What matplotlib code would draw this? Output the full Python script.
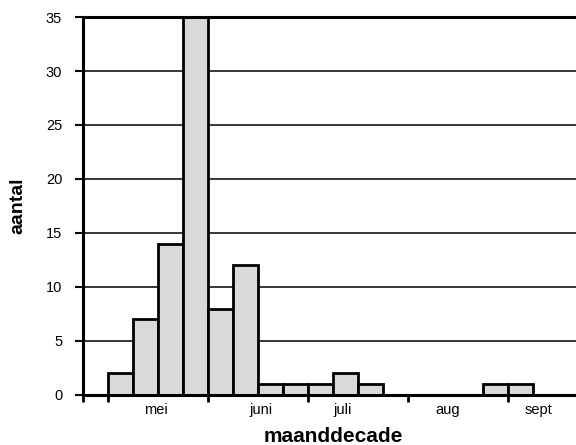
import matplotlib
matplotlib.use("Agg")
import matplotlib.pyplot as plt

plt.rcParams['font.family'] = ['Liberation Sans', 'DejaVu Sans']

# data: one slot per bar (slot index along x), count per slot
slots = list(range(20))
counts = [0, 2, 7, 14, 35, 8, 12, 1, 1, 1, 2, 1, 0, 0, 0, 0, 1, 1, 0, 0]
months = ["mei", "juni", "juli", "aug", "sept"]
month_label_pos = [2.9, 7.1, 10.4, 14.6, 18.2]
month_ticks = [0, 1, 5, 9, 13, 17]
yticks = [0, 5, 10, 15, 20, 25, 30, 35]

fig = plt.figure(figsize=(5.76, 4.45), dpi=100)
ax = fig.add_axes([83/576, 1-395/445, 500/576, (395-17)/445])

for y in yticks[1:-1]:
    ax.axhline(y, color='black', lw=1.1, zorder=1)

for s, c in zip(slots, counts):
    if c > 0:
        ax.bar(s + 0.5, c, width=1.0, color='#d9d9d9', edgecolor='black',
               linewidth=2.0, zorder=2)

ax.set_xlim(0, 20)
ax.set_ylim(0, 35)
ax.set_yticks(yticks)
ax.set_yticklabels([str(v) for v in yticks], fontsize=10.5)
ax.set_xticks(month_ticks)
ax.set_xticklabels([])
ax.set_xticks(month_label_pos, minor=True)
ax.set_xticklabels(months, minor=True, fontsize=10.5)
ax.tick_params(axis='x', which='minor', length=0, pad=6)
ax.tick_params(axis='x', which='major', direction='out', length=5, width=2)
ax.tick_params(axis='y', direction='out', length=6, width=1.5, pad=9)

for side in ['left', 'bottom', 'top']:
    ax.spines[side].set_linewidth(2.2)
ax.spines['right'].set_visible(False)

ax.set_ylabel('aantal', fontsize=14, fontweight='bold', labelpad=14)
fig.text(333/576, 1-437/445, 'maanddecade', fontsize=15, fontweight='bold',
         ha='center', va='center')

fig.savefig('out.png', dpi=100)
